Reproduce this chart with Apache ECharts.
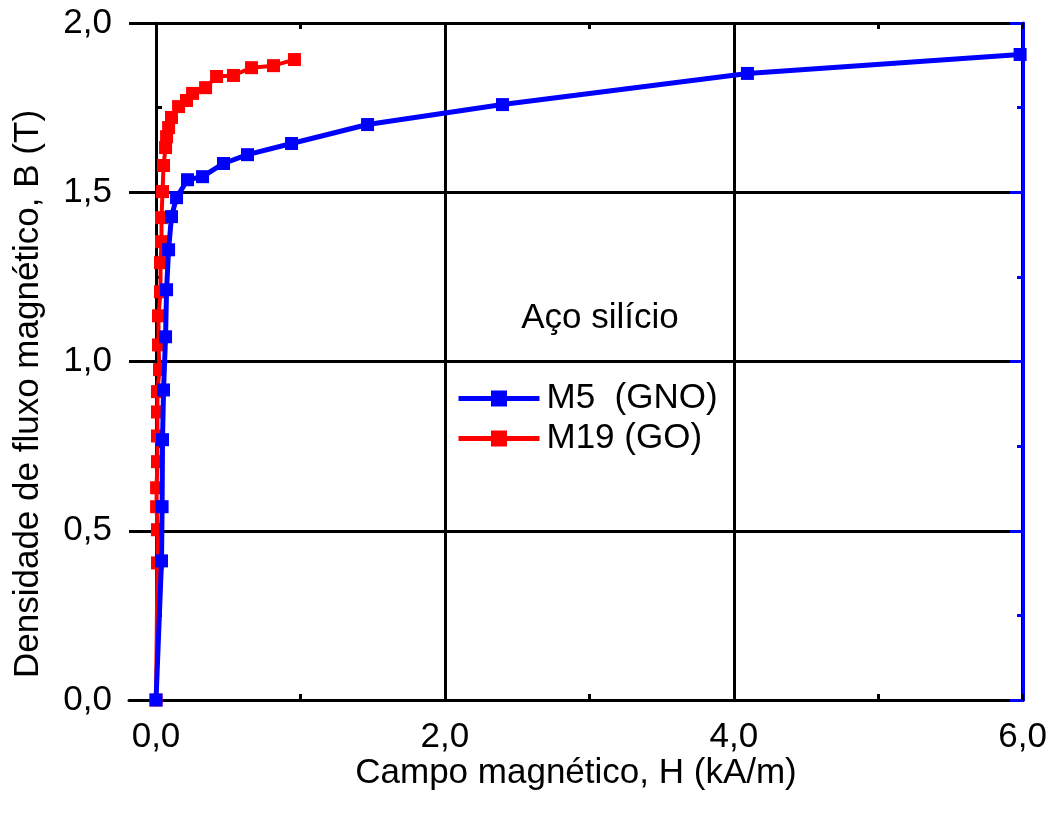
<!DOCTYPE html>
<html>
<head>
<meta charset="utf-8">
<script src="https://cdn.jsdelivr.net/npm/echarts@6/dist/echarts.min.js"></script>
<style>
  html, body { margin: 0; padding: 0; background: #fff; }
  #chart { width: 1050px; height: 814px; }
</style>
</head>
<body>
<div id="chart"></div>
<script>
// M5 (GNO) - H in kA/m, B in T
const m5H = [0, 0.038, 0.042, 0.045, 0.052, 0.066, 0.073, 0.087, 0.107, 0.142, 0.218, 0.322, 0.467, 0.633, 0.938, 1.464, 2.398, 4.093, 5.98]
const m5B = [0, 0.411, 0.571, 0.769, 0.916, 1.073, 1.212, 1.330, 1.428, 1.484, 1.537, 1.546, 1.585, 1.611, 1.644, 1.700, 1.759, 1.851, 1.907]

// M19 (GO)
const m19H = [0, 0.010, 0.010, 0.004, 0.004, 0.010, 0.010, 0.010, 0.010, 0.024, 0.017, 0.017, 0.031, 0.031, 0.038, 0.038,
  0.045, 0.052, 0.066, 0.073, 0.087, 0.107, 0.156, 0.211, 0.253, 0.343, 0.419, 0.536, 0.661, 0.813, 0.958]
const m19B = [0, 0.405, 0.503, 0.571, 0.627, 0.704, 0.780, 0.851, 0.911, 0.976, 1.049, 1.135, 1.206, 1.292, 1.354, 1.425,
  1.502, 1.579, 1.632, 1.664, 1.691, 1.721, 1.753, 1.771, 1.792, 1.809, 1.842, 1.845, 1.868, 1.874, 1.892]

const seriesNames = ['M5  (GNO)', 'M19 (GO)']
const xTicks = [0, 2, 4, 6]
const yTicks = [0, 0.5, 1, 1.5, 2]

const font = "'Liberation Sans', Arial, sans-serif"
const fmt = v => v.toFixed(1).replace('.', ',')
const pairs = (xs, ys) => xs.map((x, i) => [x, ys[i]])

const chart = echarts.init(document.getElementById('chart'), null, { renderer: 'canvas' })

const blackTick = { show: true, inside: true, length: 6, lineStyle: { color: '#000', width: 3 } }
const blackMinor = { show: true, splitNumber: 2, length: 6, lineStyle: { color: '#000', width: 3 } }

chart.setOption({
  animation: false,
  backgroundColor: '#fff',
  textStyle: { fontFamily: font },
  grid: [
    { left: 129, right: 27, top: 23, bottom: 114 },
    { left: 156, right: 27, top: 23, bottom: 114 }
  ],
  xAxis: [
    {
      // data axis (starts a little left of zero)
      type: 'value', gridIndex: 0, min: -0.187, max: xTicks[xTicks.length - 1],
      axisLine: { show: true, lineStyle: { color: '#000', width: 3 } },
      axisTick: { show: false }, axisLabel: { show: false }, splitLine: { show: false },
      name: 'Campo magnético, H (kA/m)', nameLocation: 'middle', nameGap: 56,
      nameTextStyle: { fontSize: 35, color: '#000', fontFamily: font }
    },
    {
      // labelled axis with grid lines
      type: 'value', gridIndex: 1, min: xTicks[0], max: xTicks[xTicks.length - 1], interval: 2,
      axisLine: { show: false },
      axisTick: blackTick,
      minorTick: blackMinor,
      axisLabel: { fontSize: 35, color: '#000', margin: 20, formatter: fmt, fontFamily: font },
      splitLine: { show: true, lineStyle: { color: '#000', width: 3 } }
    },
    {
      type: 'value', gridIndex: 1, position: 'top', min: xTicks[0], max: xTicks[xTicks.length - 1], interval: 2,
      axisLine: { show: false },
      axisTick: blackTick,
      minorTick: blackMinor,
      axisLabel: { show: false }, splitLine: { show: false }
    }
  ],
  yAxis: [
    {
      type: 'value', gridIndex: 0, min: yTicks[0], max: yTicks[yTicks.length - 1], interval: 0.5,
      axisLine: { show: true, lineStyle: { color: '#000', width: 2.5 } },
      axisTick: blackTick,
      minorTick: blackMinor,
      axisLabel: { fontSize: 35, color: '#000', margin: 17, formatter: fmt, fontFamily: font },
      splitLine: { show: true, lineStyle: { color: '#000', width: 3 } }
    },
    {
      type: 'value', gridIndex: 0, position: 'right', min: yTicks[0], max: yTicks[yTicks.length - 1], interval: 0.5,
      axisLine: { show: true, lineStyle: { color: '#0000ff', width: 3 } },
      axisTick: { show: true, inside: true, length: 13, lineStyle: { color: '#0000ff', width: 3 } },
      minorTick: { show: true, splitNumber: 2, length: 6, lineStyle: { color: '#0000ff', width: 3 } },
      axisLabel: { show: false }, splitLine: { show: false }
    },
    {
      type: 'value', gridIndex: 1, min: 0, max: 2, show: false
    }
  ],
  legend: {
    orient: 'vertical', left: 451, top: 376,
    itemWidth: 81, itemHeight: 20, itemGap: 5,
    lineStyle: { width: 5 },
    textStyle: { fontSize: 35, color: '#000', fontFamily: font, padding: [0, 0, 0, 2] },
    data: seriesNames
  },
  graphic: [
    {
      type: 'text', x: 600, y: 318,
      style: { text: 'Aço silício', fontSize: 35, fontFamily: font, fill: '#000', align: 'center', verticalAlign: 'middle' }
    },
    {
      type: 'text', x: 28, y: 394, rotation: Math.PI / 2,
      style: { text: 'Densidade de fluxo magnético, B (T)', fontSize: 35, fontFamily: font, fill: '#000', align: 'center', verticalAlign: 'middle' }
    }
  ],
  series: [
    {
      name: seriesNames[0], type: 'line', xAxisIndex: 0, yAxisIndex: 0, z: 4,
      data: pairs(m5H, m5B),
      symbol: 'rect', symbolSize: 13,
      lineStyle: { color: '#0000ff', width: 5 },
      itemStyle: { color: '#0000ff' }
    },
    {
      name: seriesNames[1], type: 'line', xAxisIndex: 0, yAxisIndex: 0, z: 3,
      data: pairs(m19H, m19B),
      symbol: 'rect', symbolSize: 13,
      lineStyle: { color: '#ff0000', width: 4 },
      itemStyle: { color: '#ff0000' }
    }
  ]
})
</script>
</body>
</html>
